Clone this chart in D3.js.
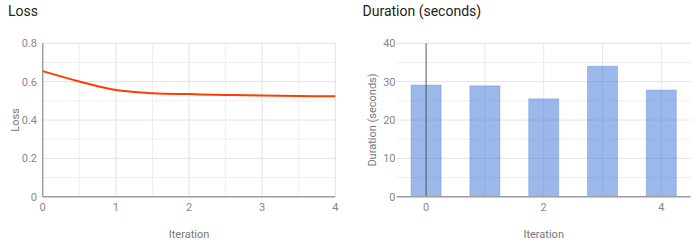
<!DOCTYPE html>
<html>
<head>
<meta charset="utf-8">
<script src="https://cdn.jsdelivr.net/npm/d3@7"></script>
<style>
  body { margin: 0; background: #fff; }
  svg { display: block; font-family: Roboto, sans-serif; }
</style>
</head>
<body>
<svg id="chart" width="700" height="249"></svg>
<script>
// Loss curve
const lossIter = [0, 0.5, 1, 1.5, 2, 2.5, 3, 3.5, 4];
const lossValues = [0.655, 0.601, 0.556, 0.540, 0.535, 0.531, 0.528, 0.525, 0.524];
const lossTicks = [0, 0.2, 0.4, 0.6, 0.8];

// Duration bars
const durIter = [0, 1, 2, 3, 4];
const durValues = [29.1, 28.9, 25.5, 34.0, 27.8];
const durTicks = [0, 10, 20, 30, 40];
const durXTicks = [0, 2, 4];

const svg = d3.select("#chart");
const plotTop = 43.3, plotBottom = 196.7;

// titles
svg.append("text").attr("x", 8).attr("y", 15.5)
  .attr("font-size", 14).attr("fill", "#222").text("Loss");
svg.append("text").attr("x", 362.5).attr("y", 15.5)
  .attr("font-size", 14).attr("fill", "#222").text("Duration (seconds)");

// ---- Loss chart ----
const x1 = d3.scaleLinear().domain([0, 4]).range([42.7, 335.3]);
const y1 = d3.scaleLinear().domain([0, 0.8]).range([plotBottom, plotTop]);
const g1 = svg.append("g");

// gridlines (minor + major)
g1.append("g").selectAll("line")
  .data(d3.range(0.5, 4.01, 0.5))
  .join("line")
  .attr("x1", d => x1(d)).attr("x2", d => x1(d))
  .attr("y1", plotTop).attr("y2", plotBottom)
  .attr("stroke", d => d % 1 === 0 ? "#e2e2e2" : "#efefef");
g1.append("g").selectAll("line")
  .data(d3.range(1, 9))
  .join("line")
  .attr("x1", x1(0)).attr("x2", x1(4))
  .attr("y1", d => y1(d / 10)).attr("y2", d => y1(d / 10))
  .attr("stroke", d => d % 2 === 0 ? "#e2e2e2" : "#efefef");

// axis lines
g1.append("line").attr("x1", x1(0)).attr("x2", x1(0)).attr("y1", plotTop).attr("y2", plotBottom)
  .attr("stroke", "#9e9e9e").attr("stroke-width", 1.5);
g1.append("line").attr("x1", x1(0)).attr("x2", x1(4)).attr("y1", plotBottom).attr("y2", plotBottom)
  .attr("stroke", "#9e9e9e").attr("stroke-width", 1.5);

// tick labels
g1.append("g").selectAll("text").data(lossTicks).join("text")
  .attr("x", 37).attr("y", d => y1(d)).attr("dy", "0.35em")
  .attr("text-anchor", "end").attr("font-size", 11).attr("fill", "#888")
  .text(d => d3.format("~g")(d));
g1.append("g").selectAll("text").data(d3.range(0, 5)).join("text")
  .attr("x", d => x1(d)).attr("y", 211)
  .attr("text-anchor", "middle").attr("font-size", 11).attr("fill", "#888")
  .text(d => d);

g1.append("path")
  .datum(lossIter.map((d, i) => [d, lossValues[i]]))
  .attr("fill", "none").attr("stroke", "#ff3d00").attr("stroke-width", 2)
  .attr("d", d3.line().x(d => x1(d[0])).y(d => y1(d[1])).curve(d3.curveCatmullRom));

g1.append("text").attr("x", x1(2)).attr("y", 238)
  .attr("text-anchor", "middle").attr("font-size", 11).attr("fill", "#777").text("Iteration");
g1.append("text").attr("transform", `translate(19,${(plotTop + plotBottom) / 2}) rotate(-90)`)
  .attr("text-anchor", "middle").attr("font-size", 11).attr("fill", "#777").text("Loss");

// ---- Duration chart ----
const x2 = d3.scaleLinear().domain([-0.5, 4.5]).range([396.7, 690.7]);
const y2 = d3.scaleLinear().domain([0, 40]).range([plotBottom, plotTop]);
const g2 = svg.append("g");

g2.append("g").selectAll("line")
  .data(d3.range(5, 41, 5))
  .join("line")
  .attr("x1", x2(-0.5)).attr("x2", x2(4.5))
  .attr("y1", d => y2(d)).attr("y2", d => y2(d))
  .attr("stroke", d => d % 10 === 0 ? "#e2e2e2" : "#efefef");
g2.append("g").selectAll("line")
  .data([1, 2, 3, 4])
  .join("line")
  .attr("x1", d => x2(d)).attr("x2", d => x2(d))
  .attr("y1", plotTop).attr("y2", plotBottom)
  .attr("stroke", "#e8e8e8");

const bw = x2(0.51) - x2(0);
g2.append("g").selectAll("rect")
  .data(durIter.map((d, i) => [d, durValues[i]]))
  .join("rect")
  .attr("x", d => x2(d[0]) - bw / 2)
  .attr("y", d => y2(d[1]))
  .attr("width", bw)
  .attr("height", d => plotBottom - y2(d[1]))
  .attr("fill", "#4a7bd9").attr("fill-opacity", 0.55)
  .attr("stroke", "#4a7bd9").attr("stroke-opacity", 0.35);

// zero line through bar 0
g2.append("line").attr("x1", x2(0)).attr("x2", x2(0)).attr("y1", plotTop).attr("y2", plotBottom)
  .attr("stroke", "#555").attr("stroke-width", 1);
g2.append("line").attr("x1", x2(-0.5)).attr("x2", x2(4.5)).attr("y1", plotBottom).attr("y2", plotBottom)
  .attr("stroke", "#9e9e9e").attr("stroke-width", 1.5);

g2.append("g").selectAll("text").data(durTicks).join("text")
  .attr("x", 395.5).attr("y", d => y2(d)).attr("dy", "0.35em")
  .attr("text-anchor", "end").attr("font-size", 11).attr("fill", "#888")
  .text(d => d);
g2.append("g").selectAll("text").data(durXTicks).join("text")
  .attr("x", d => x2(d)).attr("y", 211)
  .attr("text-anchor", "middle").attr("font-size", 11).attr("fill", "#888")
  .text(d => d);

g2.append("text").attr("x", x2(2)).attr("y", 238)
  .attr("text-anchor", "middle").attr("font-size", 11).attr("fill", "#777").text("Iteration");
g2.append("text").attr("transform", `translate(376,${(plotTop + plotBottom) / 2}) rotate(-90)`)
  .attr("text-anchor", "middle").attr("font-size", 11).attr("fill", "#777").text("Duration (seconds)");
</script>
</body>
</html>
